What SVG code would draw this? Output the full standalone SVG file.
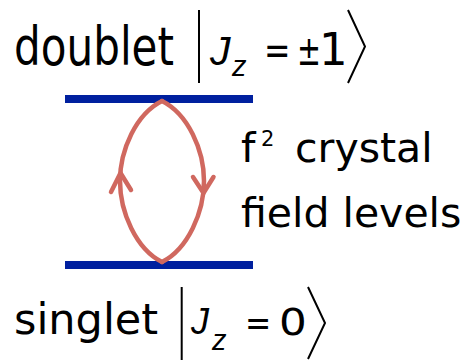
<svg xmlns="http://www.w3.org/2000/svg" width="471" height="360" viewBox="0 0 471 360">
<style>
text{font-family:"DejaVu Sans","Verdana",sans-serif;fill:#000}
.it{font-family:"Liberation Sans","Arial",sans-serif;font-style:italic}
.lvl{stroke:#00209f;stroke-width:8;fill:none}
.loop{stroke:#d0685f;stroke-width:4.5;fill:none;stroke-linecap:round;stroke-linejoin:round}
.delim{stroke:#000;stroke-width:2;fill:none}
</style>
<rect width="471" height="360" fill="#fff"/>
<g id="doublet">
<line class="lvl" x1="65" y1="99" x2="253" y2="99"/>
<text x="14" y="65" font-size="54" textLength="160" lengthAdjust="spacingAndGlyphs">doublet</text>
<line class="delim" x1="199" y1="10" x2="199" y2="83"/>
<text class="it" x="210" y="65" font-size="41">J</text>
<text class="it" x="232" y="76" font-size="29">z</text>
<text transform="translate(264,64) scale(0.77,1)" font-size="41">=</text>
<text transform="translate(297,65) scale(0.7,1)" font-size="41">±</text>
<text transform="translate(319,65)" font-size="45">1</text>
<polyline class="delim" points="348,10 365,46.5 348,83"/>
</g>
<g id="singlet">
<line class="lvl" x1="65" y1="265" x2="253" y2="265"/>
<text x="14" y="333.5" font-size="43">singlet</text>
<line class="delim" x1="181.7" y1="287" x2="181.7" y2="360"/>
<text class="it" x="191" y="334" font-size="36">J</text>
<text class="it" x="212" y="350" font-size="29">z</text>
<text transform="translate(245,335) scale(0.87,1)" font-size="36">=</text>
<text transform="translate(279,335) scale(1.15,1)" font-size="38">0</text>
<polyline class="delim" points="308,287 325,323 308,359"/>
</g>
<g id="label">
<text x="241" y="162" font-size="41">f</text>
<text x="261" y="146" font-size="21">2</text>
<text x="295" y="162" font-size="41">crystal</text>
<text x="241" y="227" font-size="41">field levels</text>
</g>
<g id="connectors">
<path class="loop" d="M162,101 C136,114 120,150 120,181 C120,212 136,249 162,262"/>
<path class="loop" d="M162,262 C188,249 204,212 204,181 C204,150 188,114 162,101"/>
<polyline class="loop" points="111,192 120.5,173 131,190"/>
<polyline class="loop" points="193,177 203.5,193 213.5,177"/>
</g>
</svg>
